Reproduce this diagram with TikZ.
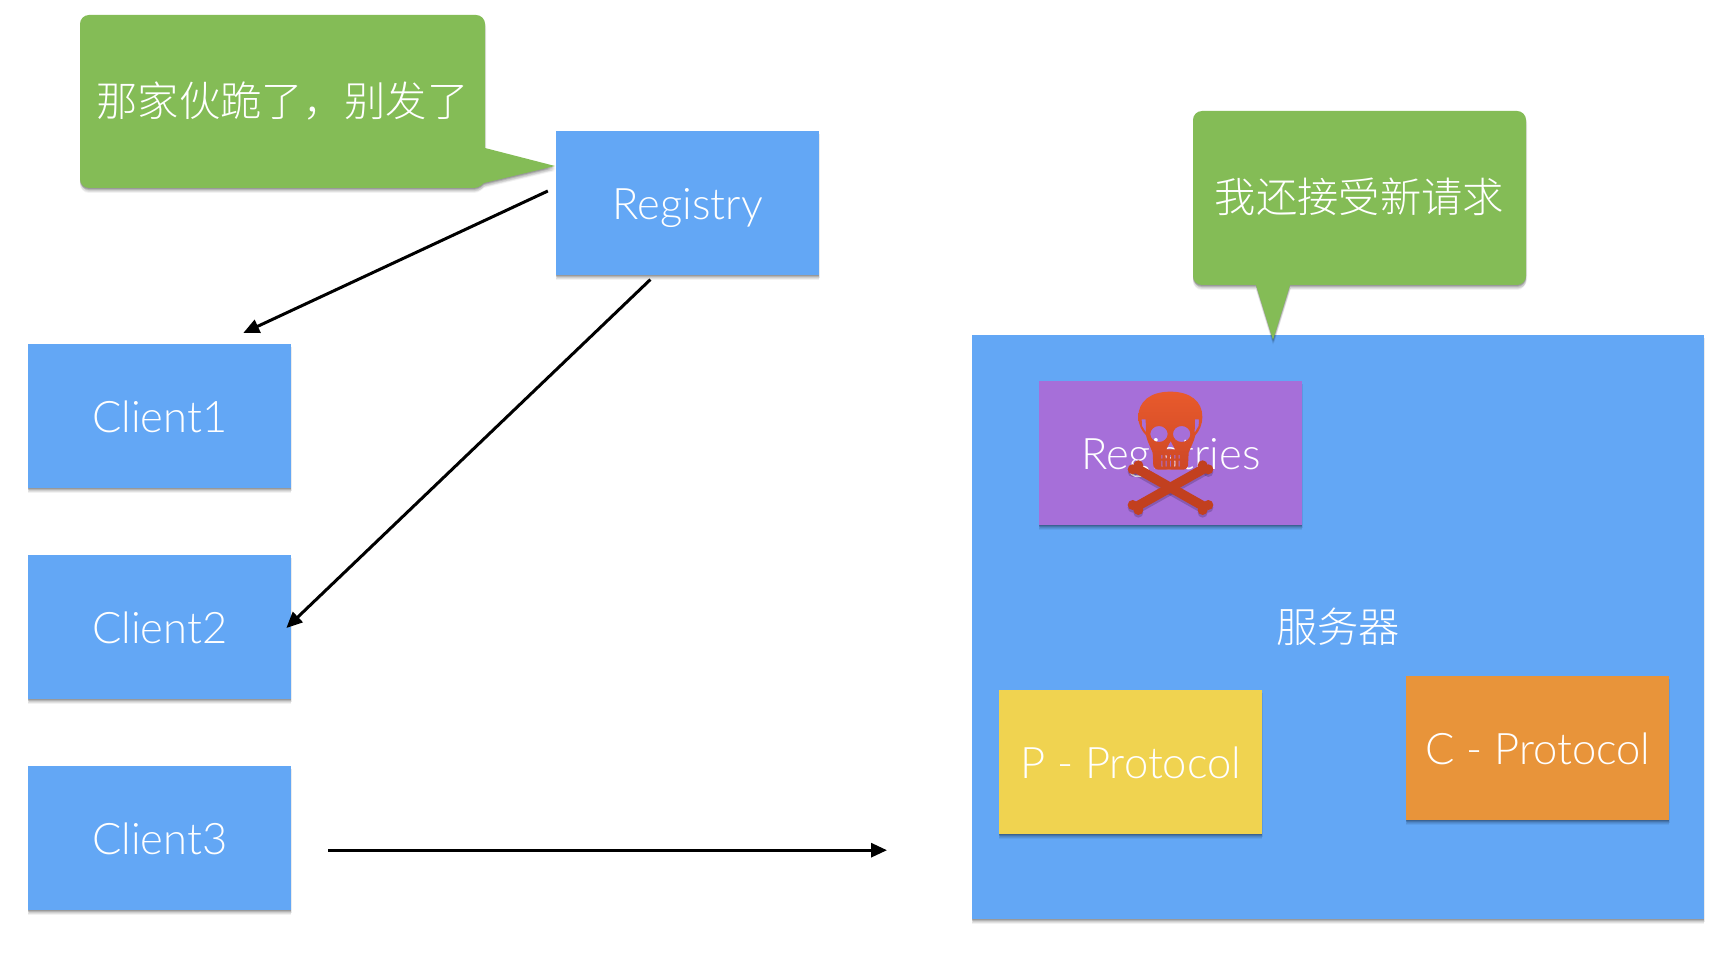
\documentclass[tikz,border=0pt]{standalone}
\usepackage{fontspec}
\setmainfont{Lato}[UprightFont=* Light]
\newfontfamily\cjk{Noto Sans CJK SC Light}
\usetikzlibrary{arrows.meta,shadows,calc}
\definecolor{boxblue}{HTML}{63A7F5}
\definecolor{boxgreen}{HTML}{84BC56}
\definecolor{boxpurple}{HTML}{A66FD9}
\definecolor{boxyellow}{HTML}{F0D350}
\definecolor{boxorange}{HTML}{E8943A}
\definecolor{skulltop}{HTML}{E85A2C}
\definecolor{skullbot}{HTML}{CE4826}
\definecolor{bonecol}{HTML}{C2401F}
\tikzset{
  softshade/.style={
    drop shadow={shadow xshift=0pt,shadow yshift=-5pt,opacity=.05,fill=black},
    drop shadow={shadow xshift=0pt,shadow yshift=-4pt,opacity=.07,fill=black},
    drop shadow={shadow xshift=1pt,shadow yshift=-3pt,opacity=.08,fill=black},
    drop shadow={shadow xshift=0pt,shadow yshift=-2pt,opacity=.12,fill=black},
    drop shadow={shadow xshift=0pt,shadow yshift=-1pt,opacity=.15,fill=black}},
  card/.style={rectangle,minimum width=263pt,minimum height=144pt,inner sep=0pt,
    text=white,font=\fontsize{43.5}{50}\selectfont,text height=32pt,text depth=0pt,softshade},
  hanzi/.style={text=white,font=\cjk\fontsize{41.3}{48}\selectfont,inner sep=0pt},
  bubble/.style={fill=boxgreen,softshade},
  link/.style={draw=black,line width=3pt,-{Triangle[length=16pt,width=14pt]}}
}
\begin{document}
\begin{tikzpicture}[x=1pt,y=-1pt]
\useasboundingbox (0,0) rectangle (1726,968);
\fill[white] (0,0) rectangle (1726,968);

% speech bubbles: rounded body with a sharp pointed tail
\path[bubble] (282,15) [rounded corners=9pt] -- (485,15) [sharp corners] -- (485,148) -- (555,166) -- (484,183)
  [rounded corners=4pt] -- (478,188) [rounded corners=9pt] -- (80,188) -- (80,15) -- cycle;
\node[hanzi] (warn) at (282.5,101) {那家伙跪了，别发了};

% server frame with its inner parts
\node[card,fill=boxblue,minimum width=732pt,minimum height=584pt,anchor=north west] (server) at (972,335) {};
\path[bubble] (1359,111) [rounded corners=9pt] -- (1526,111) -- (1526,285) [sharp corners] -- (1290,285) -- (1273,340) -- (1256,285)
  [rounded corners=9pt] -- (1193,285) -- (1193,111) -- cycle;
\node[hanzi] (accept) at (1359.5,197) {我还接受新请求};
\node[hanzi] (srvlabel) at (1338,627) {服务器};

\node[card,fill=boxblue,anchor=north west] (registry) at (556,131) {Registry};
\node[card,fill=boxblue,anchor=north west] (client1) at (28,344) {Client1};
\node[card,fill=boxblue,anchor=north west] (client2) at (28,555) {Client2};
\node[card,fill=boxblue,anchor=north west] (client3) at (28,766) {Client3};

\node[card,fill=boxpurple,anchor=north west] (registries) at (1039,381) {Registries};
\node[card,fill=boxyellow,anchor=north west] (pproto) at (999,690) {P - Protocol};
\node[card,fill=boxorange,anchor=north west] (cproto) at (1406,676) {C - Protocol};

% skull and crossbones above the purple card
\begin{scope}[shift={(1000,360)},x=0.3333pt,y=-0.3333pt]
  \foreach \off/\bcol/\bop in {8/black/.18,0/bonecol/1}{
    \begin{scope}[opacity=\bop,shift={(0,\off)}]
    \foreach \ax/\ay/\bx/\by/\nx/\ny in {404/322/618/443/7/-12.5, 619/322/404/443/7/12.5}{
      \fill[\bcol] (\ax+\nx,\ay+\ny) -- (\bx+\nx,\by+\ny) -- (\bx-\nx,\by-\ny) -- (\ax-\nx,\ay-\ny) -- cycle;
    }
    \foreach \cx/\cy in {398/328,415/316,625/435,608/450,625/328,608/316,398/435,415/450}{
      \fill[\bcol] (\cx,\cy) circle[radius=15];
    }
    \end{scope}
  }
  \shade[top color=skulltop,bottom color=skullbot,even odd rule]
    (511,95) .. controls (450,95) and (415,125) .. (415,170)
    .. controls (415,195) and (425,212) .. (438,226)
    .. controls (442,245) and (452,262) .. (458,278)
    -- (460,318) .. controls (462,326) and (468,329) .. (478,329)
    -- (546,329) .. controls (556,329) and (562,326) .. (564,318)
    -- (566,278) .. controls (572,262) and (582,245) .. (586,226)
    .. controls (598,212) and (607,195) .. (607,170)
    .. controls (607,125) and (572,95) .. (511,95) -- cycle
    (477,222) ellipse[x radius=26,y radius=24]
    (545,222) ellipse[x radius=26,y radius=24]
    (512,243) -- (499,268) -- (525,268) -- cycle
    (425,178) -- (437,178) -- (438,218) -- (426,198) -- cycle
    (597,178) -- (585,178) -- (584,218) -- (596,198) -- cycle
    (484,285) rectangle (487,296) (497,285) rectangle (500,296)
    (510,285) rectangle (513,296) (523,285) rectangle (526,296)
    (536,285) rectangle (539,296)
    (484,302) rectangle (487,320) (497,302) rectangle (500,320)
    (510,302) rectangle (513,320) (523,302) rectangle (526,320)
    (536,302) rectangle (539,320);
\end{scope}

% connectors between the cards
\draw[link,shorten <=9pt,shorten >=26pt] ([yshift=16pt]registry.west) -- ([xshift=60pt]client1.north);
\draw[link,shorten <=6pt,shorten >=-7pt] ([xshift=-33pt]registry.south) -- ([yshift=4pt]client2.east);
\draw[link,shorten <=37pt,shorten >=85pt] ([yshift=-12pt]client3.east) -- ([yshift=-223pt]server.west);
\end{tikzpicture}
\end{document}
